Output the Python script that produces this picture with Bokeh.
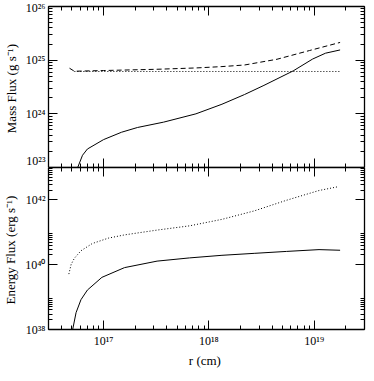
from bokeh.plotting import figure
from bokeh.models import LogAxis, FixedTicker, CustomJSTickFormatter, Range1d
from bokeh.layouts import column
from bokeh.embed import file_html
from bokeh.resources import INLINE

# ---------------- data ----------------
X_RANGE = (3e16, 3e19)
MASS_RANGE = (1e23, 1e26)
ENERGY_RANGE = (1e38, 1e43)

x_major = [1e17, 1e18, 1e19]
x_minor = [k * 10.0 ** d for d in (16, 17, 18, 19) for k in range(2, 10)
           if X_RANGE[0] <= k * 10.0 ** d <= X_RANGE[1]]
mass_major = [1e23, 1e24, 1e25, 1e26]
mass_minor = [k * 10.0 ** d for d in (23, 24, 25) for k in range(2, 10)]
energy_major = [1e38, 1e40, 1e42]
energy_minor = [k * 10.0 ** d for d in (38, 40, 42) for k in range(2, 10)]

# Mass flux, solid
r_ms = [5.68e16, 6.31e16, 7.02e16, 1.0e17, 1.48e17, 2.10e17, 3.71e17, 7.53e17, 1.33e18,
        2.18e18, 3.33e18, 6.31e18, 9.66e18, 1.28e19, 1.76e19]
m_solid = [1.0e23, 1.69e23, 2.21e23, 3.31e23, 4.54e23, 5.57e23, 7.0e23, 1.0e24, 1.51e24,
           2.29e24, 3.39e24, 6.31e24, 1.05e25, 1.35e25, 1.55e25]
# Mass flux, dashed
r_md = [4.75e16, 5.28e16, 1.0e17, 3.16e17, 7.53e17, 1.33e18, 2.18e18, 4.43e18, 9.0e18, 1.76e19]
m_dashed = [7.08e24, 6.22e24, 6.41e24, 6.76e24, 7.16e24, 7.59e24, 8.13e24, 1.04e25, 1.51e25, 2.14e25]
# Mass flux, dotted
r_mo = [5.28e16, 1.0e17, 1.0e18, 1.0e19, 1.76e19]
m_dotted = [6.15e24, 6.15e24, 6.15e24, 6.15e24, 6.15e24]

# Energy flux, solid
r_es = [5.09e16, 5.48e16, 6.1e16, 7.02e16, 9.64e16, 1.58e17, 3.22e17, 6.53e17, 1.33e18,
        2.69e18, 5.47e18, 1.11e19, 1.76e19]
e_solid = [1.0e38, 3.31e38, 8.32e38, 1.65e39, 4.07e39, 8.13e39, 1.29e40, 1.62e40, 1.95e40,
           2.24e40, 2.57e40, 2.92e40, 2.79e40]
# Energy flux, dotted
r_eo = [4.68e16, 4.92e16, 5.28e16, 6.1e16, 7.8e16, 1.11e17, 1.58e17, 3.22e17, 6.53e17,
        1.33e18, 2.69e18, 5.47e18, 1.11e19, 1.70e19]
e_dotted = [5.13e39, 1.02e40, 1.58e40, 2.69e40, 4.49e40, 6.61e40, 8.32e40, 1.17e41, 1.58e41,
            2.51e41, 4.57e41, 9.77e41, 1.95e42, 2.57e42]

# ---------------- styling ----------------
FONT = "Liberation Serif"
FW = 316

sup_fmt = CustomJSTickFormatter(code="""
const s = {"0":"\u2070","1":"\u00b9","2":"\u00b2","3":"\u00b3","4":"\u2074","5":"\u2075",
           "6":"\u2076","7":"\u2077","8":"\u2078","9":"\u2079","-":"\u207b"};
const e = Math.round(Math.log10(tick));
return "10" + String(e).split("").map(c => s[c]).join("");
""")
blank_fmt = CustomJSTickFormatter(code="return '';")


def style_axis(ax, major, minor, labels):
    ax.ticker = FixedTicker(ticks=major, minor_ticks=minor)
    ax.major_tick_in = 9
    ax.major_tick_out = 0
    ax.minor_tick_in = 4
    ax.minor_tick_out = 0
    ax.major_tick_line_color = "black"
    ax.minor_tick_line_color = "black"
    ax.major_tick_line_width = 1
    ax.minor_tick_line_width = 1
    ax.axis_line_color = "black"
    ax.axis_line_width = 1.3
    ax.major_label_text_font = FONT
    ax.major_label_text_color = "black"
    ax.axis_label_text_font = FONT
    ax.axis_label_text_font_style = "normal"
    ax.axis_label_text_color = "black"
    ax.axis_label_text_font_size = "13px"
    if labels:
        ax.formatter = sup_fmt
        ax.major_label_text_font_size = "12px"
        ax.major_label_standoff = 3
    else:
        ax.formatter = blank_fmt
        ax.major_label_text_font_size = "1px"
        ax.major_label_standoff = 0


def make_fig(yr, fh, ymajor, yminor, ylabel, xlabel, top_border):
    p = figure(x_axis_type="log", y_axis_type="log",
               x_range=Range1d(*X_RANGE), y_range=Range1d(*yr),
               frame_width=FW, frame_height=fh,
               output_backend="svg", toolbar_location=None,
               min_border_left=40, min_border_right=2,
               min_border_top=top_border, min_border_bottom=0)
    p.grid.visible = False
    left = p.yaxis[0]
    left.axis_label = ylabel
    style_axis(left, ymajor, yminor, True)
    left.axis_label_standoff = 4
    bot = p.xaxis[0]
    style_axis(bot, x_major, x_minor, bool(xlabel))
    if xlabel:
        bot.axis_label = xlabel
        bot.major_label_standoff = 4
        bot.axis_label_standoff = 2
    right = LogAxis()
    style_axis(right, ymajor, yminor, False)
    top = LogAxis()
    style_axis(top, x_major, x_minor, False)
    p.add_layout(right, "right")
    p.add_layout(top, "above")
    return p


p1 = make_fig(MASS_RANGE, 161, mass_major, mass_minor,
              "Mass Flux  (g s\u207b\u00b9)", None, 6)
p1.line(r_ms, m_solid, line_color="black", line_width=1)
p1.line(r_md, m_dashed, line_color="black", line_width=1, line_dash="5 3")
p1.line(r_mo, m_dotted, line_color="black", line_width=1, line_dash="1 2")

p2 = make_fig(ENERGY_RANGE, 162, energy_major, energy_minor,
              "Energy Flux  (erg s\u207b\u00b9)", "r  (cm)", 0)
p2.line(r_es, e_solid, line_color="black", line_width=1)
p2.line(r_eo, e_dotted, line_color="black", line_width=1, line_dash="1 2")

layout = column(p1, p2, spacing=0)

open("out.html", "w").write(file_html(layout, INLINE))
